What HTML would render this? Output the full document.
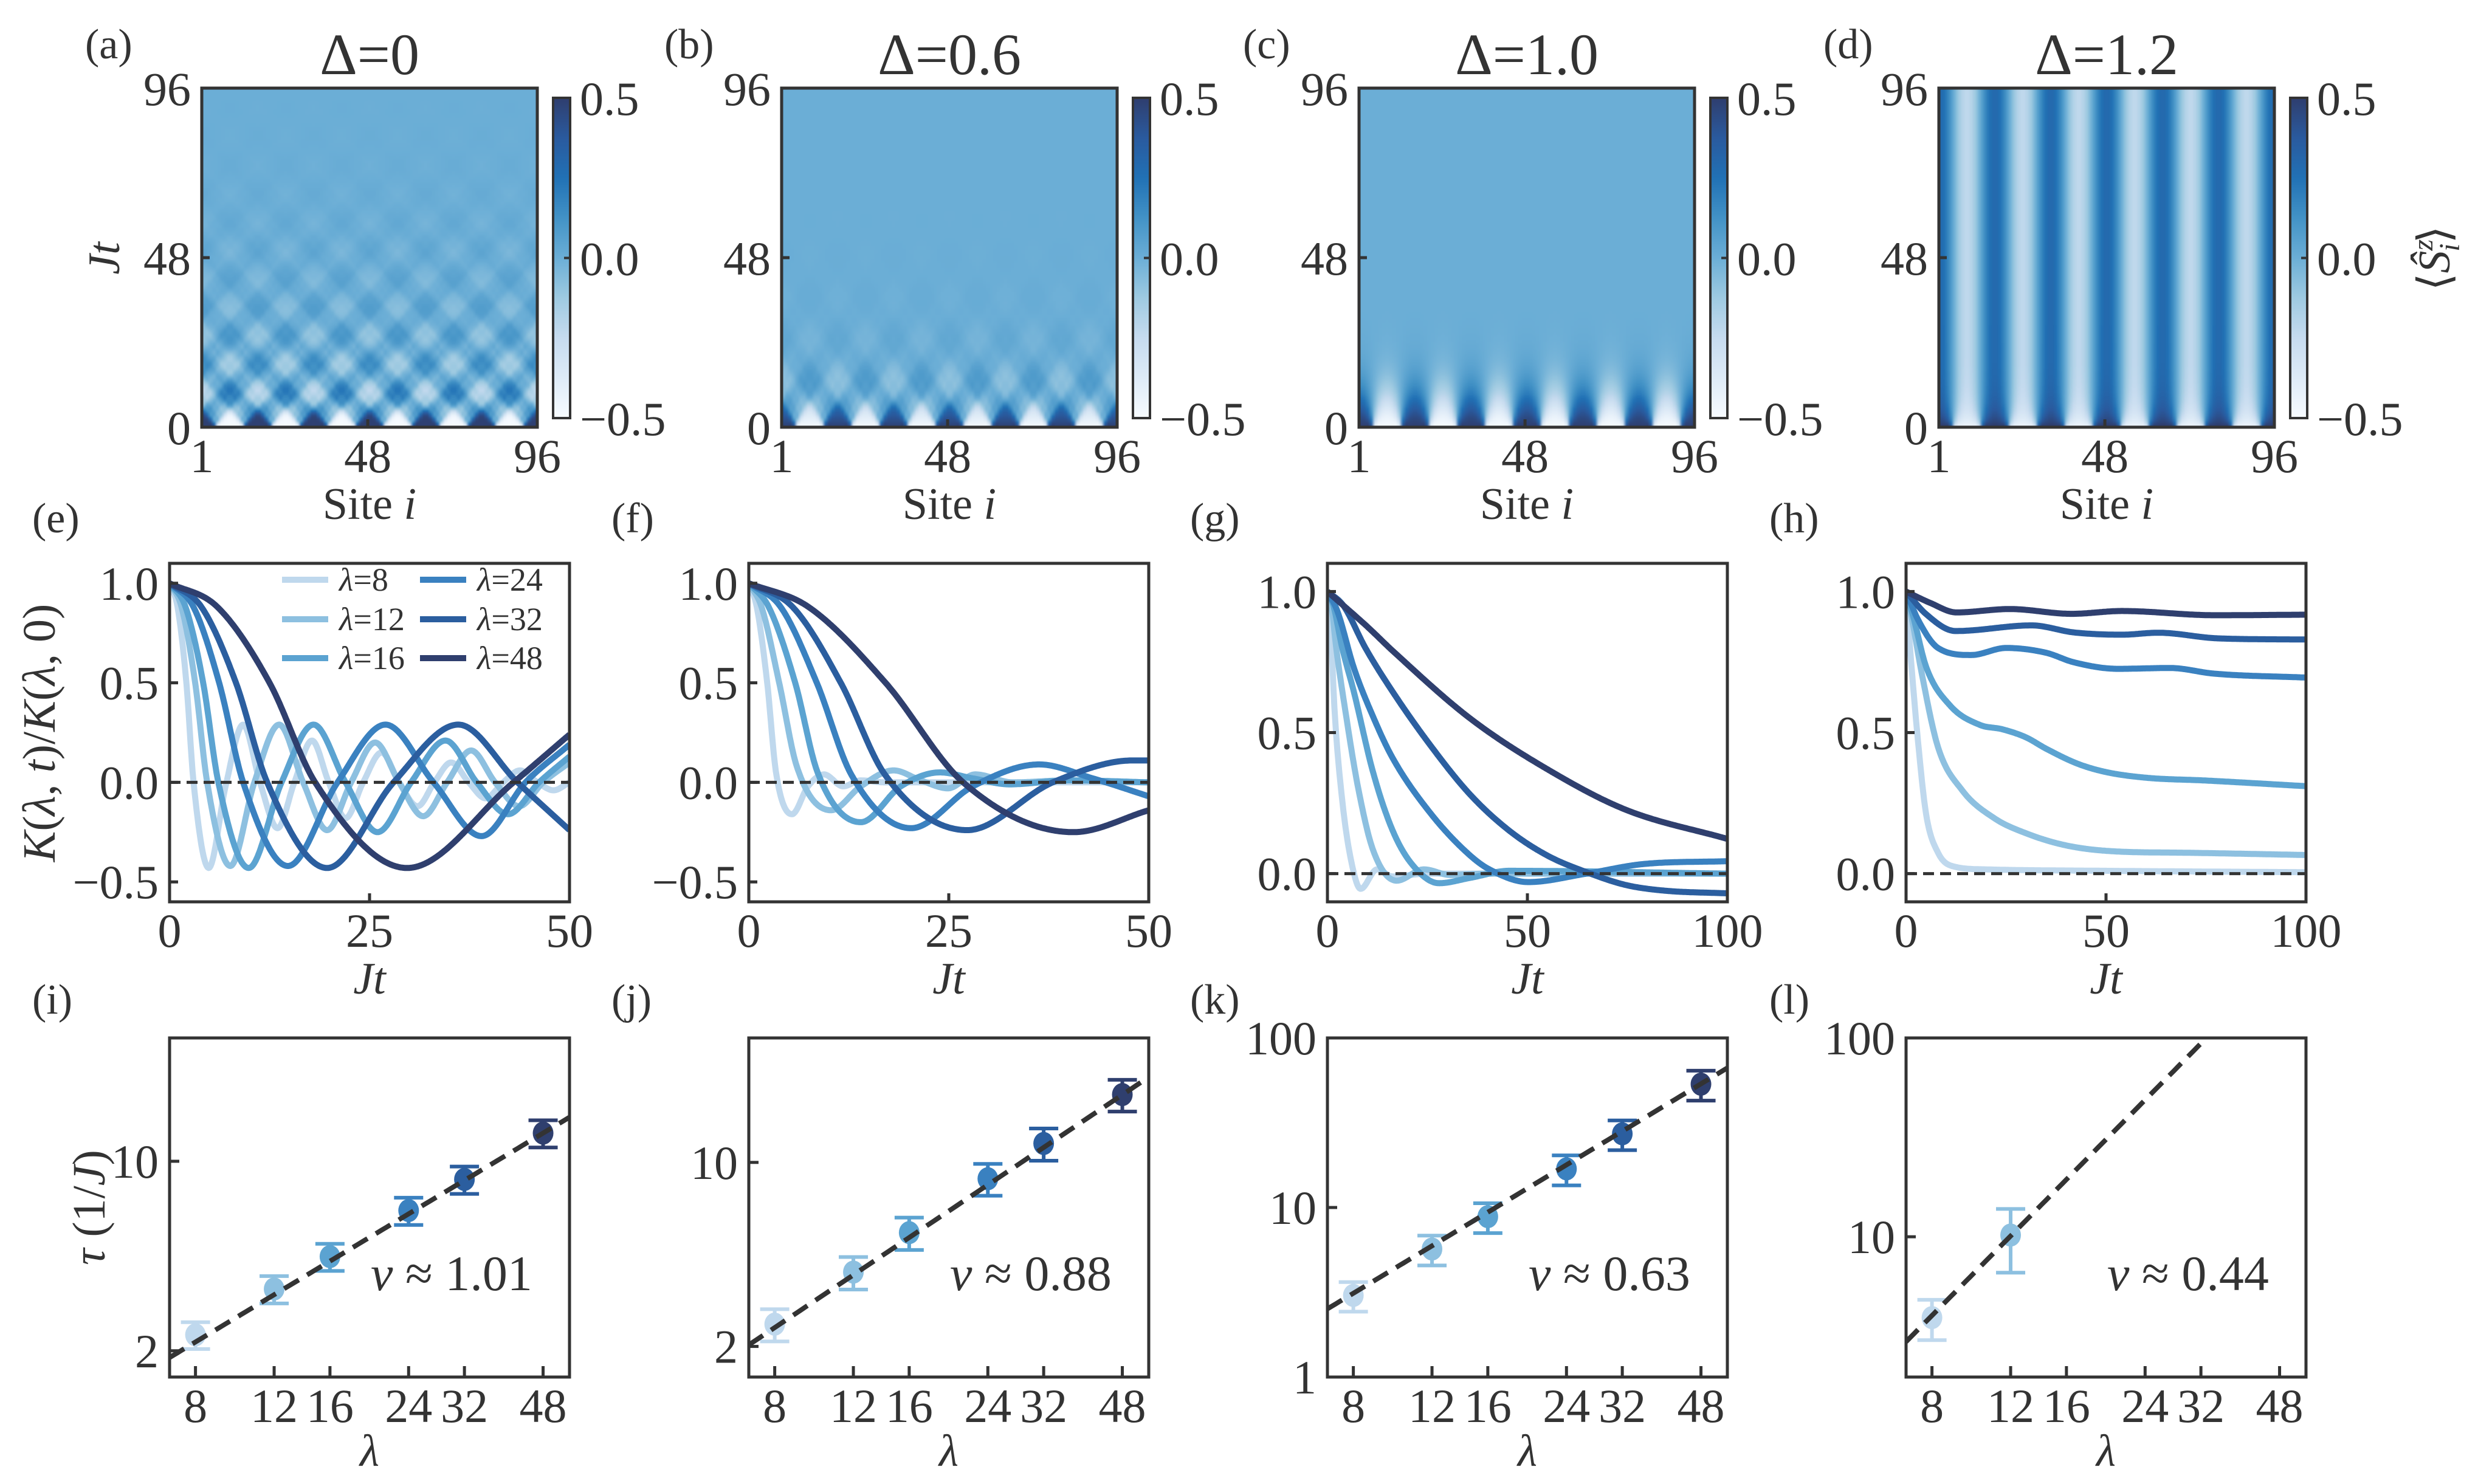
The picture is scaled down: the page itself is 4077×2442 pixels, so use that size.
<!DOCTYPE html>
<html><head><meta charset="utf-8">
<style>
html,body{margin:0;padding:0;background:#fff;}
#fig{position:relative;width:4077px;height:2442px;background:#fff;overflow:hidden;}
canvas{position:absolute;}
svg{position:absolute;left:0;top:0;}
text{font-family:"Liberation Serif","DejaVu Serif",serif;fill:#333;}
</style></head>
<body>
<div id="fig">
<canvas id="hmA" width="552" height="558" style="left:332px;top:145px"></canvas>
<canvas id="hmB" width="552" height="558" style="left:1286px;top:145px"></canvas>
<canvas id="hmC" width="552" height="558" style="left:2236px;top:145px"></canvas>
<canvas id="hmD" width="552" height="558" style="left:3190px;top:145px"></canvas>
<svg id="svg" width="4077" height="2442" viewBox="0 0 4077 2442" xmlns="http://www.w3.org/2000/svg">
<defs>
<linearGradient id="cbgrad" x1="0" y1="1" x2="0" y2="0">
<stop offset="0" stop-color="#f7fbff"/><stop offset="0.125" stop-color="#deebf7"/><stop offset="0.25" stop-color="#c6dbef"/><stop offset="0.375" stop-color="#9ecae1"/><stop offset="0.5" stop-color="#6baed6"/><stop offset="0.625" stop-color="#4292c6"/><stop offset="0.75" stop-color="#2171b5"/><stop offset="0.875" stop-color="#2a5a9e"/><stop offset="1" stop-color="#2f3e6e"/>
</linearGradient>
</defs>
</svg>
</div>
<script>
// ---------- data ----------
const lambdas = [8, 12, 16, 24, 32, 48];
const deltas = ["0", "0.6", "1.0", "1.2"];
const eT = [
 [0,1,2.1,3.0,4.9,7.0,9.2,11.3,13.5,15.6,17.8,19.9,22,24.2,26.5,28.7,31,33.1,35.2,37.4,39.5,41.7,43.8,46,48,50],
 [0,1.5,3.2,4.7,7.6,10.6,13.7,16.7,19.7,22.7,25.7,28.7,31.7,34.7,37.7,40.7,43.7,46.7,50],
 [0,2,4.2,6.1,9.9,14,18,22,26,30.2,34.5,38.4,42.3,46.2,50],
 [0,3,6.2,9.2,14.8,21,27,33,39,44.5,50],
 [0,4,8.3,12.2,19.7,28,36.1,43.5,50],
 [0,6,12.5,18.2,29.7,43,50]];
const eV = [
 [1,0.88,0.5,0,-0.43,-0.02,0.29,0,-0.23,0,0.21,0,-0.18,0,0.15,0,-0.12,0,0.10,0,-0.08,0,0.06,0,-0.04,0],
 [1,0.88,0.5,0,-0.42,0,0.29,0,-0.24,0,0.2,0,-0.17,0,0.16,0,-0.12,0,0.1],
 [1,0.88,0.5,0,-0.43,0,0.29,0,-0.25,0,0.21,0,-0.16,0,0.13],
 [1,0.88,0.5,0,-0.42,0,0.29,0,-0.27,0,0.19],
 [1,0.88,0.5,0,-0.43,0,0.29,0,-0.24],
 [1,0.88,0.5,0,-0.43,0,0.24]];
const fT = [
 [0,1,2.3,3.4,5.4,7.4,9.4,11.8,14,17,50],
 [0,1.6,3.8,6,10.3,14,18.1,21.5,24.9,28.3,33,40,50],
 [0,2.5,5.8,8.6,14,19,23.9,28,32.6,40,50],
 [0,4,8.5,12.8,20.3,28,36.3,43,50],
 [0,5.5,11.5,17,27.3,38,48,50],
 [0,7.5,17.1,26.8,40.6,50]];
const fV = [
 [1,0.88,0.5,0.05,-0.16,-0.02,0.04,-0.02,0.01,0,0],
 [1,0.88,0.5,0.08,-0.14,-0.02,0.06,0.01,-0.03,0.04,0,0.01,0],
 [1,0.88,0.5,0.05,-0.2,-0.02,0.05,0.02,-0.01,0.01,0],
 [1,0.88,0.5,0.04,-0.23,-0.02,0.09,0.02,-0.07],
 [1,0.88,0.5,0.04,-0.24,0,0.11,0.11],
 [1,0.88,0.5,0,-0.25,-0.14]];
const gT = [
 [0,0.7,1.7,3.7,6.1,8.3,12.4,16.3,25,100],
 [0,1,2.2,4.7,7.6,11.4,17.3,24.1,30.8,40,100],
 [0,1.5,3.7,6.6,11.4,16.3,21.1,27.9,35.7,45.4,100],
 [0,2.5,6.6,11.4,16.3,26,35.7,40.5,50.2,64.8,79,100],
 [0,4,9.5,16.3,26,35.7,45.4,55,64.8,74.5,84,100],
 [0,10,16.3,35.7,55,74.5,100]];
const gV = [
 [1,0.92,0.6,0.26,0.034,-0.054,0.015,-0.01,0,0],
 [1,0.95,0.80,0.557,0.31,0.084,-0.025,0.015,-0.005,0,0],
 [1,0.95,0.80,0.645,0.36,0.153,0.034,-0.034,-0.015,0.01,0],
 [1,0.93,0.73,0.557,0.41,0.21,0.064,0.015,-0.03,0,0.034,0.044],
 [1,0.95,0.80,0.645,0.45,0.28,0.153,0.064,0.005,-0.04,-0.06,-0.07],
 [1,0.875,0.79,0.55,0.37,0.227,0.123]];
const hT = [
 [0,1,3,5,8,12,20,50,100],
 [0,1.5,4,8,14,22,30,40,52,70,100],
 [0,2,5,11,18.5,24,30,35,43,50,60,75,100],
 [0,3,8,16.3,25,35,42,53,66,77,100],
 [0,5,12.4,31.4,42,54,63,78,100],
 [0,6,12.6,25.9,41.4,54,77.3,100]];
const hV = [
 [1,0.80,0.468,0.212,0.074,0.025,0.015,0.01,0.005],
 [1,0.9,0.704,0.448,0.296,0.197,0.143,0.1,0.079,0.074,0.066],
 [1,0.9,0.734,0.596,0.527,0.512,0.483,0.443,0.389,0.36,0.34,0.33,0.31],
 [1,0.9,0.80,0.775,0.80,0.783,0.749,0.726,0.729,0.709,0.695],
 [1,0.92,0.86,0.88,0.855,0.847,0.854,0.834,0.83],
 [1,0.96,0.926,0.938,0.921,0.931,0.916,0.918]];
const tauI = [2.29, 3.38, 4.45, 6.58, 8.57, 12.7];
const errI = [0.26, 0.39, 0.51, 0.76, 0.99, 1.46];
const tauJ = [2.43, 3.83, 5.41, 8.67, 11.8, 18.1];
const errJ = [0.34, 0.54, 0.76, 1.2, 1.65, 2.5];
const tauK = [3.03, 5.69, 8.83, 16.9, 27.2, 53.4];
const errK = [0.6, 1.14, 1.77, 3.4, 5.4, 10.7];
const tauL = [3.92, 10.2];
const errL = [0.9, 3.6];
const nuFit = [1.01, 0.88, 0.63, 0.44];
const ampFit = [0.275, 0.222, 0.115, 0.0356];
const xTickLabels = ["8", "12", "16", "24", "32", "48"];

const colors = ['#bfd8ed','#8dc0e0','#5ba3d1','#3a81c0','#2b5e9f','#2f3f6e'];
const INK = '#333';
const NS = 'http://www.w3.org/2000/svg';
const svg = document.getElementById('svg');

function mk(tag, attrs, parent){
  const e = document.createElementNS(NS, tag);
  for (const k in attrs) e.setAttribute(k, attrs[k]);
  (parent || svg).appendChild(e);
  return e;
}
function txt(x, y, html, size, anchor, parent){
  const t = mk('text', {x:x, y:y, 'font-size':size, 'text-anchor':anchor||'middle'}, parent);
  t.innerHTML = html;
  return t;
}
function mono(xs, ys){
  const n = xs.length, d = [], m = [];
  for (let i=0;i<n-1;i++) d.push((ys[i+1]-ys[i])/(xs[i+1]-xs[i]));
  m[0]=d[0]; m[n-1]=d[n-2];
  for (let i=1;i<n-1;i++) m[i] = (d[i-1]*d[i]<=0) ? 0 : (d[i-1]+d[i])/2;
  for (let i=0;i<n-1;i++){
    if (d[i]===0){ m[i]=0; m[i+1]=0; continue; }
    const a=m[i]/d[i], b=m[i+1]/d[i], s=a*a+b*b;
    if (s>9){ const tt=3/Math.sqrt(s); m[i]=tt*a*d[i]; m[i+1]=tt*b*d[i]; }
  }
  return function(x){
    let i=0; while(i<n-2 && x>xs[i+1]) i++;
    const h=xs[i+1]-xs[i], t=(x-xs[i])/h, t2=t*t, t3=t2*t;
    return (2*t3-3*t2+1)*ys[i]+(t3-2*t2+t)*h*m[i]+(-2*t3+3*t2)*ys[i+1]+(t3-t2)*h*m[i+1];
  };
}

const panelLetters1 = ['(a)','(b)','(c)','(d)'];
const panelLetters2 = ['(e)','(f)','(g)','(h)'];
const panelLetters3 = ['(i)','(j)','(k)','(l)'];
const hmLeft = [332, 1286, 2236, 3190];
const lowLeft = [279, 1232, 2184, 3136];
const labLeft = [140, 1093, 2045, 3000];
const labLeft2 = [53, 1006, 1958, 2911];

function J0(x){
  const ax=Math.abs(x);
  if (ax<8){
    const y=x*x;
    const a1=57568490574.0+y*(-13362590354.0+y*(651619640.7+y*(-11214424.18+y*(77392.33017+y*(-184.9052456)))));
    const a2=57568490411.0+y*(1029532985.0+y*(9494680.718+y*(59272.64853+y*(267.8532712+y*1.0))));
    return a1/a2;
  }
  const z=8/ax, y=z*z, xx=ax-0.785398164;
  const a1=1.0+y*(-0.1098628627e-2+y*(0.2734510407e-4+y*(-0.2073370639e-5+y*0.2093887211e-6)));
  const a2=-0.1562499995e-1+y*(0.1430488765e-3+y*(-0.6911093879e-5+y*(0.7621095161e-6-y*0.934935152e-7)));
  return Math.sqrt(0.636619772/ax)*(Math.cos(xx)*a1-z*Math.sin(xx)*a2);
}
const stops = [[247,251,255],[222,235,247],[198,219,239],[158,202,225],[107,174,214],[66,146,198],[33,113,181],[42,90,158],[47,62,110]];
function cmap(v){
  let f=(v+0.5)/1.0; f=Math.max(0,Math.min(1,f))*8;
  const i=Math.min(7,Math.floor(f)), r=f-i, a=stops[i], b=stops[i+1];
  return [a[0]+(b[0]-a[0])*r, a[1]+(b[1]-a[1])*r, a[2]+(b[2]-a[2])*r];
}
function gfun(p, n, t){
  const s = Math.sin(n*Math.PI/16);
  if (p===0) return J0(2*t*s)*Math.exp(-Math.pow(t/48,2));
  if (p===1) return J0(1.4*t*s)*Math.exp(-t/14);
  if (p===2) return Math.exp(-Math.pow(t*s/(9*0.195),1.4));
  return n===1 ? 0.42+0.58*Math.exp(-t/4) : Math.exp(-t*n/6);
}
function drawHeat(id, p){
  const W=96, H=240;
  const off=document.createElement('canvas'); off.width=W; off.height=H;
  const ctx=off.getContext('2d'); const img=ctx.createImageData(W,H);
  for (let r=0;r<H;r++){
    const t=96*(1-(r+0.5)/H);
    for (let c=0;c<W;c++){
      const x=2*Math.PI*(c+0.5)/16;
      let s=0;
      for (let n=1;n<=7;n+=2){ const sg=((n-1)/2)%2===0?1:-1; s+=sg/n*Math.cos(n*x)*gfun(p,n,t); }
      let v=0.5*(4/Math.PI)*s*0.98;
      if (p===3) v = v + 0.03;
      const col=cmap(v), k=(r*W+c)*4;
      img.data[k]=col[0]; img.data[k+1]=col[1]; img.data[k+2]=col[2]; img.data[k+3]=255;
    }
  }
  ctx.putImageData(img,0,0);
  const cv=document.getElementById(id), c2=cv.getContext('2d');
  c2.imageSmoothingEnabled=true; c2.drawImage(off,0,0,552,558);
}
drawHeat('hmA',0); drawHeat('hmB',1); drawHeat('hmC',2); drawHeat('hmD',3);

for (let k=0;k<4;k++){
  const L=hmLeft[k], T=145, W=552, H=558;
  const g = mk('g', {});
  
  
  const fr = mk('rect', {x:L, y:T, width:W, height:H, fill:'none', stroke:INK, 'stroke-width':5}, g);
  
  
  mk('line', {x1:L, y1:T+H/2, x2:L+13, y2:T+H/2, stroke:INK, 'stroke-width':5}, g);
  mk('line', {x1:L+W*47/95, y1:T+H, x2:L+W*47/95, y2:T+H-13, stroke:INK, 'stroke-width':5}, g);
  const yl = [['96',T],['48',T+H/2],['0',T+H]];
  yl.forEach(function(a){
    const tl = txt(L-18, a[1]+28, a[0], 78, 'end', g);
    
    
  });
  const xl = [['1',L],['48',L+W*47/95],['96',L+W]];
  xl.forEach(function(a){
    const tl = txt(a[1], 777, a[0], 78, 'middle', g);
    
    
  });
  const xt = txt(L+W/2, 854, 'Site <tspan font-style="italic">i</tspan>', 74, 'middle', g);
  
  
  const tt = txt(L+W/2, 122, 'Δ=' + deltas[k], 96, 'middle', g);
  
  
  const pl = txt(labLeft[k], 96, panelLetters1[k], 70, 'start', g);
  
  
  const cx=L+W+26, cy=161, ch=527;
  const cb = mk('rect', {x:cx, y:cy, width:28, height:ch, fill:'url(#cbgrad)', stroke:INK, 'stroke-width':4}, g);
  
  
  mk('line', {x1:cx+18, y1:cy+ch/2, x2:cx+28, y2:cy+ch/2, stroke:INK, 'stroke-width':4}, g);
  [['0.5',cy],['0.0',cy+ch/2],['−0.5',cy+ch]].forEach(function(a){
    const cl = txt(cx+44, a[1]+28, a[0], 78, 'start', g);
    
    
  });
}
const jtY = txt(0, 0, '<tspan font-style="italic">Jt</tspan>', 74, 'middle');
jtY.setAttribute('transform', 'translate(196,425) rotate(-90)');


const szL = txt(0, 0, '⟨<tspan font-style="italic">Ŝ</tspan><tspan font-size="48" dy="-28" font-style="italic">z</tspan><tspan font-size="48" dx="-20" dy="44" font-style="italic">i</tspan><tspan dy="-16">⟩</tspan>', 74, 'middle');
szL.setAttribute('transform', 'translate(4030,425) rotate(-90)');



const curveT = [eT, fT, gT, hT];
const curveV = [eV, fV, gV, hV];
const xMax = [50, 50, 100, 100];
const yLo = [-0.6, -0.6, -0.1, -0.1];
const yHi = [1.1, 1.1, 1.1, 1.1];
const yTicks2 = [[1.0,0.5,0.0,-0.5],[1.0,0.5,0.0,-0.5],[1.0,0.5,0.0],[1.0,0.5,0.0]];
for (let k=0;k<4;k++){
  const L=lowLeft[k], T=927, W=658, H=557;
  const sx = function(t){ return L + t/xMax[k]*W; };
  const sy = function(v){ return T + (yHi[k]-v)/(yHi[k]-yLo[k])*H; };
  const g = mk('g', {});
  
  
  const cp = mk('clipPath', {id:'clip2'+k}, g);
  mk('rect', {x:L, y:T, width:W, height:H}, cp);
  const cg = mk('g', {'clip-path':'url(#clip2'+k+')'}, g);
  for (let s=0;s<6;s++){
    const f = mono(curveT[k][s], curveV[k][s]);
    let d='';
    for (let i=0;i<=400;i++){ const t=xMax[k]*i/400; d += (i?'L':'M') + sx(t).toFixed(1) + ',' + sy(f(t)).toFixed(1); }
    const pth = mk('path', {d:d, fill:'none', stroke:colors[s], 'stroke-width':10, 'stroke-linejoin':'round'}, cg);
    
    
  }
  const zl = mk('line', {x1:L, y1:sy(0), x2:L+W, y2:sy(0), stroke:INK, 'stroke-width':5, 'stroke-dasharray':'18 10'}, g);
  
  
  const fr = mk('rect', {x:L, y:T, width:W, height:H, fill:'none', stroke:INK, 'stroke-width':5}, g);
  
  
  yTicks2[k].forEach(function(v){
    mk('line', {x1:L, y1:sy(v), x2:L+14, y2:sy(v), stroke:INK, 'stroke-width':5}, g);
    const tl = txt(L-18, sy(v)+27, v.toFixed(1).replace('-','−'), 78, 'end', g);
    
    
  });
  [0, xMax[k]/2, xMax[k]].forEach(function(t){
    mk('line', {x1:sx(t), y1:T+H, x2:sx(t), y2:T+H-14, stroke:INK, 'stroke-width':5}, g);
    const tl = txt(sx(t), 1558, String(t), 78, 'middle', g);
    
    
  });
  const xt = txt(L+W/2, 1635, '<tspan font-style="italic">Jt</tspan>', 74, 'middle', g);
  
  
  const pl = txt(labLeft2[k], 876, panelLetters2[k], 70, 'start', g);
  
  
}
const kY = txt(0, 0, '<tspan font-style="italic">K</tspan>(<tspan font-style="italic">λ</tspan>, <tspan font-style="italic">t</tspan>)/<tspan font-style="italic">K</tspan>(<tspan font-style="italic">λ</tspan>, 0)', 76, 'middle');
kY.setAttribute('transform', 'translate(90,1206) rotate(-90)');


const legG = mk('g', {});


for (let s=0;s<6;s++){
  const col = Math.floor(s/3), row = s%3;
  const lx = [464, 691][col], ly = [954, 1019, 1083][row];
  const ln = mk('line', {x1:lx, y1:ly, x2:lx+76, y2:ly, stroke:colors[s], 'stroke-width':10}, legG);
  
  
  const lt = txt(lx+94, ly+18, '<tspan font-style="italic">λ</tspan>=' + lambdas[s], 54, 'start', legG);
  
  
}

const tauAll = [tauI, tauJ, tauK, tauL];
const errAll = [errI, errJ, errK, errL];
const yMin3 = [1.6, 1.53, 1, 1.97];
const yMax3 = [28.5, 29.7, 100, 100];
const yTicks3 = [[2,10],[2,10],[1,10,100],[10,100]];
const nuLabels = ['1.01', '0.88', '0.63', '0.44'];
for (let k=0;k<4;k++){
  const L=lowLeft[k], T=1708, W=658, H=558;
  const lx0=Math.log10(7), lx1=Math.log10(55);
  const sx = function(l){ return L + (Math.log10(l)-lx0)/(lx1-lx0)*W; };
  const sy = function(v){ return T + (Math.log10(yMax3[k])-Math.log10(v))/(Math.log10(yMax3[k])-Math.log10(yMin3[k]))*H; };
  const g = mk('g', {});
  
  
  const cp = mk('clipPath', {id:'clip3'+k}, g);
  mk('rect', {x:L, y:T, width:W, height:H}, cp);
  const cg = mk('g', {'clip-path':'url(#clip3'+k+')'}, g);
  const tau = tauAll[k], err = errAll[k];
  for (let s=0;s<tau.length;s++){
    const x = sx(lambdas[s]), yh = sy(tau[s]+err[s]), yl = sy(tau[s]-err[s]);
    const eb = mk('path', {d:'M'+x+','+yh+'L'+x+','+yl+'M'+(x-24)+','+yh+'L'+(x+24)+','+yh+'M'+(x-24)+','+yl+'L'+(x+24)+','+yl, stroke:colors[s], 'stroke-width':6, fill:'none'}, cg);
    
    
    const pt = mk('ellipse', {cx:x, cy:sy(tau[s]), rx:17, ry:19, fill:colors[s]}, cg);
    
    
  }
  let d='';
  for (let i=0;i<=100;i++){ const l = 7*Math.pow(55/7, i/100); const v = ampFit[k]*Math.pow(l, 1/nuFit[k]); d += (i?'L':'M') + sx(l).toFixed(1) + ',' + sy(v).toFixed(1); }
  const fl = mk('path', {d:d, fill:'none', stroke:INK, 'stroke-width':8, 'stroke-dasharray':'28 16'}, cg);
  
  
  const fr = mk('rect', {x:L, y:T, width:W, height:H, fill:'none', stroke:INK, 'stroke-width':5}, g);
  
  
  lambdas.forEach(function(l, i){
    mk('line', {x1:sx(l), y1:T+H, x2:sx(l), y2:T+H-18, stroke:INK, 'stroke-width':5}, g);
    const tl = txt(sx(l), 2340, xTickLabels[i], 78, 'middle', g);
    
    
  });
  yTicks3[k].forEach(function(v){
    const y = sy(v);
    if (y > T+3 && y < T+H-3) mk('line', {x1:L, y1:y, x2:L+16, y2:y, stroke:INK, 'stroke-width':5}, g);
    const tl = txt(L-18, y+27, String(v), 78, 'end', g);
    
    
  });
  const nt = txt(L+331, 2123, '<tspan font-style="italic">ν</tspan> ≈ ' + nuLabels[k], 82, 'start', g);
  
  
  const xt = txt(L+W/2, 2412, '<tspan font-style="italic">λ</tspan>', 74, 'middle', g);
  
  
  const pl = txt(labLeft2[k], 1668, panelLetters3[k], 70, 'start', g);
  
  
}
const tauY = txt(0, 0, '<tspan font-style="italic">τ</tspan> (1/<tspan font-style="italic">J</tspan>)', 76, 'middle');
tauY.setAttribute('transform', 'translate(172,1987) rotate(-90)');


</script>
</body></html>
